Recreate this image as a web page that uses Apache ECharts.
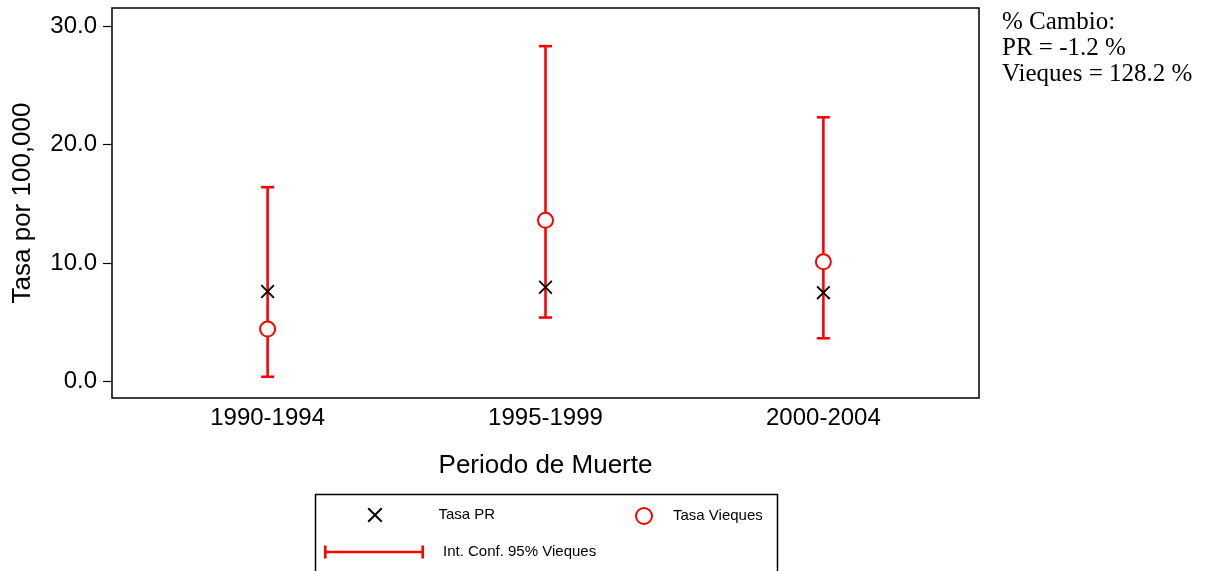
<!DOCTYPE html>
<html>
<head>
<meta charset="utf-8">
<script src="https://cdn.jsdelivr.net/npm/echarts@6/dist/echarts.min.js"></script>
<style>
html,body{margin:0;padding:0;background:#fff;}
#chart{width:1220px;height:571px;}
</style>
</head>
<body>
<div id="chart"></div>
<script>
// periodos de muerte
var periodos = ['1990-1994', '1995-1999', '2000-2004'];
// tasas por 100,000
var tasaPR = [7.6, 7.95, 7.5];
var tasaVieques = [4.43, 13.6, 10.1];
// intervalo de confianza 95% Vieques
var icBajo = [0.4, 5.4, 3.65];
var icAlto = [16.4, 28.3, 22.3];
var yTicks = [0, 10, 20, 30];
var notas = ['% Cambio:', 'PR = -1.2 %', 'Vieques = 128.2 %'];

var fuente = 'Liberation Sans, Arial, sans-serif';
var rojo = '#ff0000';

var ptsPR = [], ptsVq = [], ptsIC = [];
for (var i = 0; i < periodos.length; i++) {
	ptsPR.push([i + 1, tasaPR[i]]);
	ptsVq.push([i + 1, tasaVieques[i]]);
	ptsIC.push([i + 1, icBajo[i], icAlto[i]]);
}

var iconX = 'path://M1.4,0 L7.5,6.1 L13.6,0 L15,1.4 L8.9,7.5 L15,13.6 L13.6,15 L7.5,8.9 L1.4,15 L0,13.6 L6.1,7.5 L0,1.4 Z';
var iconIC = 'path://M0,0 L2.6,0 L2.6,5.2 L97.4,5.2 L97.4,0 L100,0 L100,13 L97.4,13 L97.4,7.8 L2.6,7.8 L2.6,13 L0,13 Z';

var myChart = echarts.init(document.getElementById('chart'));
var option = {
	animation: false,
	grid: {
		left: 112, top: 8, right: 241, bottom: 173,
		show: true, borderColor: '#000', borderWidth: 1.5
	},
	xAxis: {
		type: 'value',
		min: 0.44, max: 3.56,
		name: 'Periodo de Muerte',
		nameLocation: 'middle',
		nameGap: 55,
		nameTextStyle: {fontFamily: fuente, fontSize: 26, color: '#000'},
		axisLine: {show: false},
		axisTick: {show: false},
		splitLine: {show: false},
		axisLabel: {
			customValues: [1, 2, 3],
			formatter: function(v){ return periodos[Math.round(v) - 1]; },
			fontFamily: fuente, fontSize: 24, color: '#000', margin: 8
		}
	},
	yAxis: {
		type: 'value',
		min: -1.39, max: 31.52,
		name: 'Tasa por 100,000',
		nameLocation: 'middle',
		nameGap: 76,
		nameTextStyle: {fontFamily: fuente, fontSize: 26, color: '#000'},
		axisLine: {show: false},
		splitLine: {show: false},
		axisTick: {
			show: true, length: 9, customValues: yTicks,
			lineStyle: {color: '#000', width: 1.2}
		},
		axisLabel: {
			customValues: yTicks,
			formatter: function(v){ return v.toFixed(1); },
			fontFamily: fuente, fontSize: 24, color: '#000', margin: 15
		}
	},
	legend: [
		{
			data: [{name: 'Tasa PR', icon: iconX}],
			left: 367.5, top: 507.5, padding: 0,
			itemWidth: 15, itemHeight: 15,
			selectedMode: false,
			itemStyle: {opacity: 1},
			textStyle: {fontFamily: fuente, fontSize: 15, color: '#000', padding: [0, 0, 0, 51]}
		},
		{
			data: [{name: 'Tasa Vieques', icon: 'emptyCircle'}],
			left: 635, top: 507, padding: 0,
			itemWidth: 16, itemHeight: 16,
			selectedMode: false,
			itemStyle: {borderWidth: 2.2, opacity: 1},
			textStyle: {fontFamily: fuente, fontSize: 15, color: '#000', padding: [0, 0, 0, 16]}
		},
		{
			data: [{name: 'Int. Conf. 95% Vieques', icon: iconIC}],
			left: 324, top: 544.5, padding: 0,
			itemWidth: 100, itemHeight: 13,
			selectedMode: false,
			textStyle: {fontFamily: fuente, fontSize: 15, color: '#000', padding: [0, 0, 0, 14]}
		}
	],
	graphic: [
		{
			type: 'rect', left: 313, top: 492,
			shape: {width: 462, height: 100},
			style: {fill: 'none', stroke: '#000', lineWidth: 1.5},
			silent: true
		},
		{
			type: 'text', left: 1002, top: 9,
			style: {
				text: notas.join('\n'),
				font: '25px "Liberation Serif", "Times New Roman", serif',
				lineHeight: 26, fill: '#000'
			}
		}
	],
	series: [
		{
			name: 'Int. Conf. 95% Vieques',
			type: 'custom',
			itemStyle: {color: rojo},
			data: ptsIC,
			renderItem: function(params, api){
				var x = api.value(0);
				var top = api.coord([x, api.value(2)]);
				var bot = api.coord([x, api.value(1)]);
				var w = 6.5;
				var st = {stroke: rojo, lineWidth: 2.6};
				return {type: 'group', children: [
					{type: 'line', shape: {x1: top[0], y1: top[1], x2: bot[0], y2: bot[1]}, style: st},
					{type: 'line', shape: {x1: top[0] - w, y1: top[1], x2: top[0] + w, y2: top[1]}, style: st},
					{type: 'line', shape: {x1: bot[0] - w, y1: bot[1], x2: bot[0] + w, y2: bot[1]}, style: st}
				]};
			}
		},
		{
			name: 'Tasa Vieques',
			type: 'scatter',
			symbol: 'emptyCircle',
			symbolSize: 15,
			itemStyle: {color: rojo, borderColor: rojo, borderWidth: 2.2, opacity: 1},
			data: ptsVq
		},
		{
			name: 'Tasa PR',
			type: 'scatter',
			symbol: iconX,
			symbolSize: 14,
			itemStyle: {color: '#000', opacity: 1},
			data: ptsPR
		}
	]
};
myChart.setOption(option);
</script>
</body>
</html>
